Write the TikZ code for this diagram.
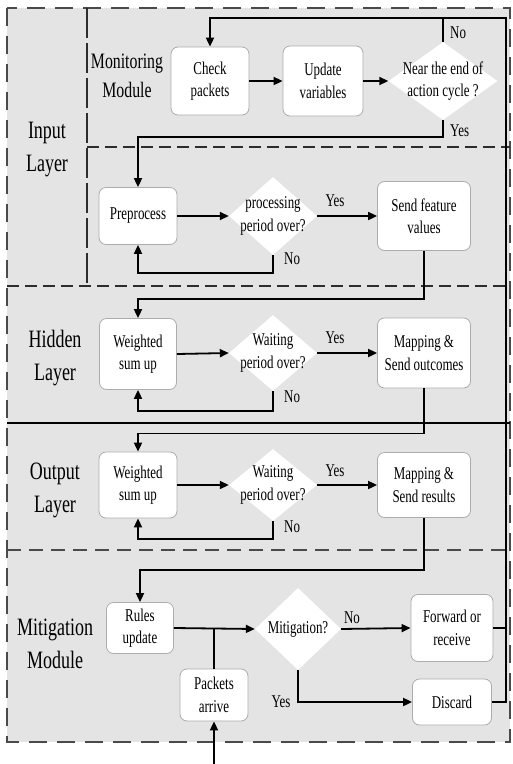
\documentclass[tikz,border=0pt]{standalone}
\usepackage{fontspec}
\setmainfont[FakeStretch=0.72]{Liberation Serif}
\usetikzlibrary{arrows.meta,shapes.geometric}
\definecolor{panel}{HTML}{E4E4E4}
\definecolor{frame}{HTML}{4A4A4A}
\newcommand{\layerfont}{\fontsize{25}{33}\selectfont}
\newcommand{\modfont}{\fontsize{22}{29}\selectfont}
\newcommand{\boxfont}{\fontsize{18}{22.5}\selectfont}
\newcommand{\tagfont}{\fontsize{18}{20}\selectfont}
\begin{document}
\begin{tikzpicture}[x=1pt,y=-1pt,
  stepbox/.style={rectangle,rounded corners=7pt,draw=gray!65,line width=0.8pt,
    fill=white,align=center,font=\boxfont,inner sep=0pt},
  decision/.style={diamond,fill=white,draw=none,inner sep=0pt},
  dtext/.style={align=center,font=\boxfont,inner sep=0pt},
  layer/.style={align=center,font=\layerfont,inner sep=0pt},
  tag/.style={font=\tagfont,inner sep=1pt},
  flow/.style={line width=1.8pt,black},
  arr/.style={flow,-{Triangle[length=9pt,width=8pt]}},
  outer/.style={line width=1.8pt,frame,dash pattern=on 18pt off 10pt},
  inner/.style={line width=1.2pt,gray!35!black,dash pattern=on 12pt off 6pt}]
\useasboundingbox (0,0) rectangle (513,764);

% panel background and frame
\fill[panel] (7,8) rectangle (510,742);
\draw[outer] (7,8) rectangle (510,742);

% section separators
\draw[inner,dash pattern=on 30pt off 5pt] (87,8) -- (87,286);
\draw[inner] (87,147) -- (510,147);
\draw[inner] (7,286) -- (510,286);
\draw[line width=1.2pt,black] (7,423) -- (510,423);
\draw[line width=1.6pt,frame,dash pattern=on 14pt off 8pt] (7,550) -- (510,550);

% layer labels
\node[layer] (lin) at (47,150) {Input\\Layer};
\node[layer,font=\modfont] (lmon) at (127,76) {Monitoring\\Module};
\node[layer] (lhid) at (55,358) {Hidden\\Layer};
\node[layer] (lout) at (55,490) {Output\\Layer};
\node[layer] (lmit) at (55,644) {Mitigation\\Module};

% monitoring module
\node[stepbox,minimum width=78,minimum height=68] (check) at (210,81) {Check\\packets};
\node[stepbox,minimum width=80,minimum height=70] (update) at (323,81) {Update\\variables};
\node[decision,minimum width=109,minimum height=78] (d1) at (443,81) {};
\node[dtext] (d1t) at (d1) {Near the end of\\action cycle ?};

% input layer processing
\node[stepbox,minimum width=78,minimum height=57] (pre) at (138,216) {Preprocess};
\node[decision,minimum width=88,minimum height=78] (d2) at (273,216) {};
\node[dtext] (d2t) at (d2) {processing\\period over?};
\node[stepbox,minimum width=93,minimum height=69] (send) at (424,216) {Send feature\\values};

% hidden layer
\node[stepbox,minimum width=77,minimum height=71] (h1) at (138,354) {Weighted\\sum up};
\node[decision,minimum width=88,minimum height=76] (d3) at (273,353) {};
\node[dtext] (d3t) at (d3) {Waiting\\period over?};
\node[stepbox,minimum width=93,minimum height=70] (map1) at (424,353) {Mapping \&\\Send outcomes};

% output layer
\node[stepbox,minimum width=78,minimum height=66] (o1) at (138,485) {Weighted\\sum up};
\node[decision,minimum width=88,minimum height=72] (d4) at (273,485) {};
\node[dtext] (d4t) at (d4) {Waiting\\period over?};
\node[stepbox,minimum width=93,minimum height=65] (map2) at (424,485) {Mapping \&\\Send results};

% mitigation module
\node[stepbox,minimum width=67,minimum height=51] (rules) at (140,628) {Rules\\update};
\node[stepbox,minimum width=68,minimum height=52] (pk) at (214,695) {Packets\\arrive};
\node[decision,minimum width=86,minimum height=82] (d5) at (298,629) {};
\node[dtext] (d5t) at (d5) {Mitigation?};
\node[stepbox,minimum width=82,minimum height=67] (fwd) at (452,628) {Forward or\\receive};
\node[stepbox,minimum width=79,minimum height=46] (disc) at (452,702) {Discard};

\coordinate (rtop) at (506,18);
\coordinate (src) at (214,764);

% monitoring flow
\draw[arr] (check.east) -- (update.west);
\draw[arr] (update.east) -- (d1.west);
\draw[flow] (d1.north) -- (d1.north |- rtop);
\draw[arr] (d1.south) -- ++(0,17) -| (pre.north);
\node[tag,anchor=west] (no1) at (449,33) {No};
\node[tag,anchor=west] (yes1) at (449,131) {Yes};

% input processing flow
\draw[arr] (pre.east) -- (d2.west);
\draw[arr] (d2.south) -- ++(0,18) -| (pre.south);
\draw[arr] (d2.east) -- (send.west);
\draw[arr] (send.south) -- ++(0,48) -| (h1.north);
\node[tag] (yes2) at (335,201) {Yes};
\node[tag,anchor=west] (no2) at (283,259) {No};

% hidden layer flow
\draw[arr] (h1.east) -- (d3.west);
\draw[arr] (d3.south) -- ++(0,20) -| (h1.south);
\draw[arr] (d3.east) -- (map1.west);
\draw[arr] (map1.south) -- ++(0,45) -| (o1.north);
\node[tag] (yes3) at (335,338) {Yes};
\node[tag,anchor=west] (no3) at (283,397) {No};

% output layer flow
\draw[arr] (o1.east) -- (d4.west);
\draw[arr] (d4.south) -- ++(0,18) -| (o1.south);
\draw[arr] (d4.east) -- (map2.west);
\draw[arr] (map2.south) -- ++(0,52) -| (rules.north);
\node[tag] (yes4) at (335,471) {Yes};
\node[tag,anchor=west] (no4) at (283,527) {No};

% mitigation flow
\draw[arr] (rules.east) -- (d5.west);
\draw[flow] (pk.north) -- (pk.north |- rules.east);
\draw[arr] (src) -- (pk.south);
\draw[arr] (d5.east) -- (fwd.west);
\draw[arr] (d5.south) |- (disc.west);
\node[tag] (no5) at (352,618) {No};
\node[tag] (yes5) at (281,702) {Yes};

% feedback to the monitoring module
\draw[flow] (fwd.east) -- (fwd.east -| rtop);
\draw[arr] (disc.east) -| (rtop) -| (check.north);
\end{tikzpicture}
\end{document}
